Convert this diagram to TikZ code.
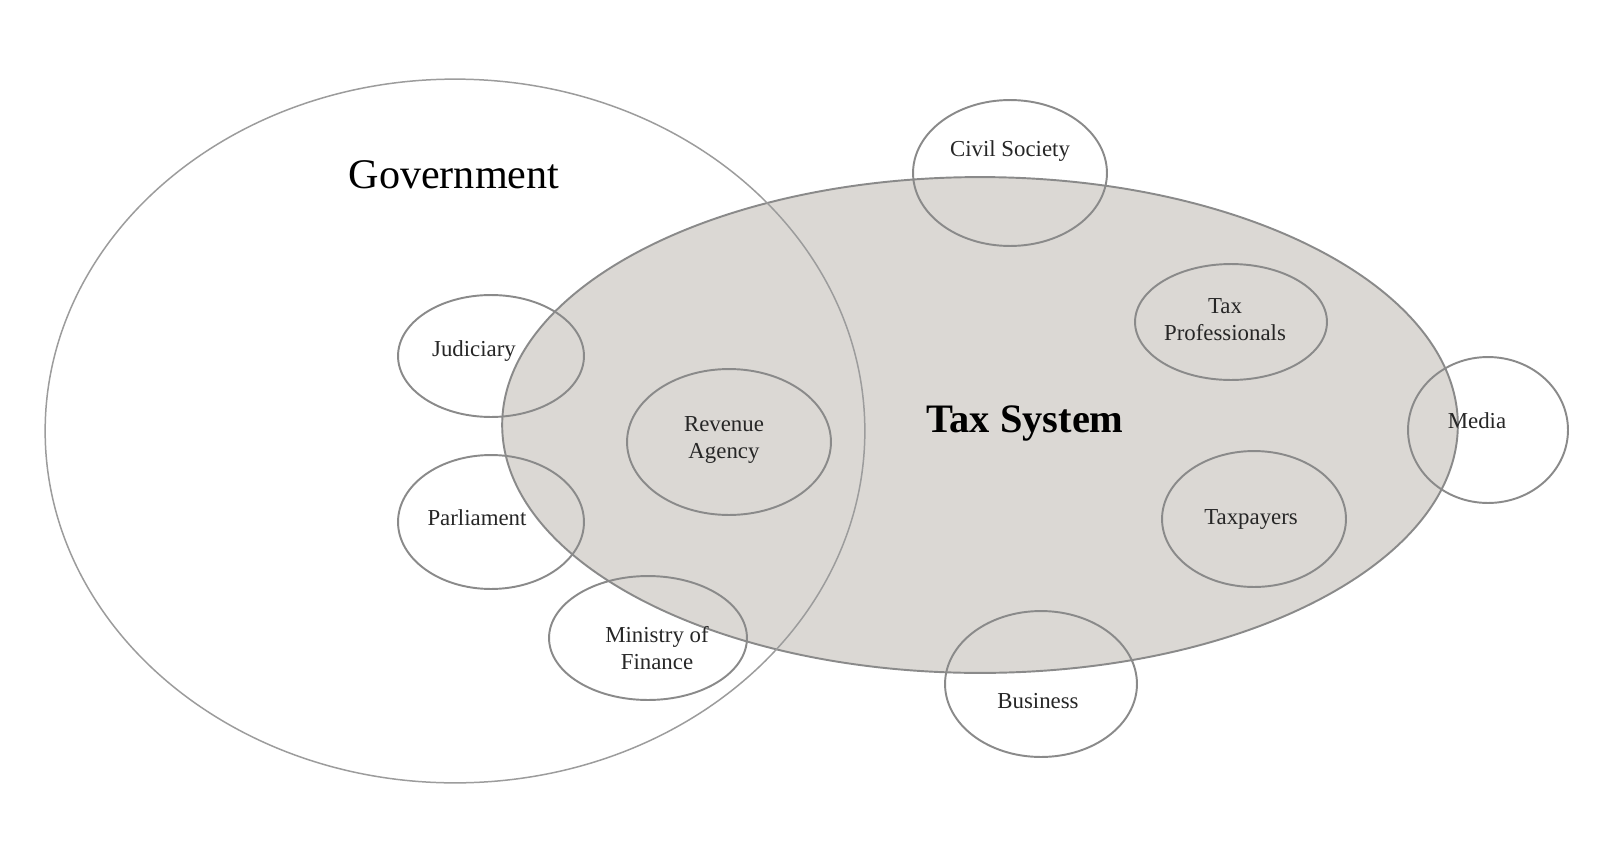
\documentclass[tikz,border=0pt]{standalone}
\usepackage{fontspec}
\setmainfont{Liberation Serif}
\usetikzlibrary{shapes.geometric}
\definecolor{linec}{HTML}{8A8A8A}
\definecolor{govline}{HTML}{9C9C9C}
\definecolor{taxfill}{HTML}{DBD8D4}
\tikzset{
  ell/.style 2 args={ellipse, draw=linec, line width=1.1pt, inner sep=0pt,
    minimum width=#1*0.04cm, minimum height=#2*0.04cm},
  lbl/.style={font=\fontsize{13}{15.5}\selectfont, align=center, inner sep=0pt, text=black!85},
}
\begin{document}
\begin{tikzpicture}[x=0.02cm, y=-0.02cm]
\useasboundingbox (0,0) rectangle (1605,862);
\fill[white] (0,0) rectangle (1605,862);
% Tax System (filled)
\node[ell={478}{248}, fill=taxfill] (tax) at (980,425) {};
% Government (outline only, over the fill)
\node[ell={410}{352}, draw=govline, line width=0.85pt] (gov) at (455,431) {};
% small ellipses
\node[ell={97}{73}]  (civ) at (1010,173) {};
\node[ell={96}{58}]  (pro) at (1231,322) {};
\node[ell={80}{73}]  (med) at (1488,430) {};
\node[ell={92}{68}]  (pay) at (1254,519) {};
\node[ell={96}{73}]  (bus) at (1041,684) {};
\node[ell={102}{73}] (rev) at (729,442) {};
\node[ell={93}{61}]  (jud) at (491,356) {};
\node[ell={93}{67}]  (par) at (491,522) {};
\node[ell={99}{62}]  (min) at (648,638) {};
% titles
\node[font=\fontsize{24}{28}\selectfont, inner sep=0pt] (govl) at (454,175) {Government};
\node[font=\bfseries\fontsize{23}{27}\selectfont, inner sep=0pt] (taxl) at (1025,423) {Tax System};
% labels
\node[lbl] (civl) at (1010,151) {Civil Society};
\node[lbl] (prol) at (1225,320) {Tax\\Professionals};
\node[lbl] (medl) at (1477,421) {Media};
\node[lbl] (payl) at (1251,519) {Taxpayers};
\node[lbl] (busl) at (1038,701) {Business};
\node[lbl] (revl) at (724,440) {Revenue\\Agency};
\node[lbl] (judl) at (474,351) {Judiciary};
\node[lbl] (parl) at (477,518) {Parliament};
\node[lbl] (minl) at (657,648) {Ministry of\\Finance};
\end{tikzpicture}
\end{document}
